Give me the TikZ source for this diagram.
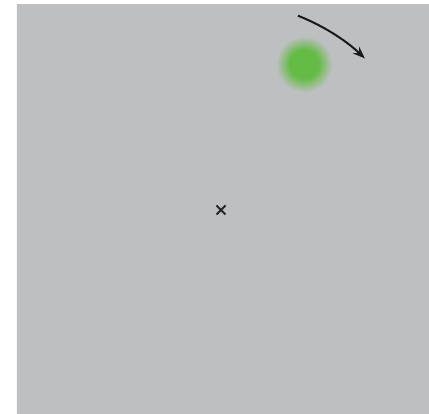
\documentclass[tikz,border=0pt]{standalone}
\usetikzlibrary{arrows.meta}
\definecolor{bg}{RGB}{190,191,193}
\definecolor{blob}{RGB}{100,187,70}
\pgfdeclareradialshading{blobshade}{\pgfpoint{0bp}{0bp}}{color(0bp)=(blob); color(12bp)=(blob); color(23.5bp)=(bg); color(50bp)=(bg)}
\tikzset{
  xmark/.style={line width=2pt, black!85},
  motion/.style={line width=2pt, black!90, -{Stealth[length=12pt,width=9pt]}}
}
\begin{document}
\begin{tikzpicture}[x=1pt,y=1pt]
\useasboundingbox (0,0) rectangle (429,414);
\fill[white] (0,0) rectangle (429,414);
\fill[bg] (16,0) rectangle (429,410);
\draw[white!85!bg, line width=1pt] (16.5,0) -- (16.5,410);
\coordinate (c) at (221,204);
\coordinate (g) at (304,350);
\shade[shading=blobshade] (g) circle[radius=30];
\draw[xmark] ([shift={(-4.5,-4.5)}]c) -- ([shift={(4.5,4.5)}]c);
\draw[xmark] ([shift={(-4.5,4.5)}]c) -- ([shift={(4.5,-4.5)}]c);
\draw[motion] ([shift={(68.4:209)}]c) arc[start angle=68.4, end angle=46.5, radius=209];
\end{tikzpicture}
\end{document}
